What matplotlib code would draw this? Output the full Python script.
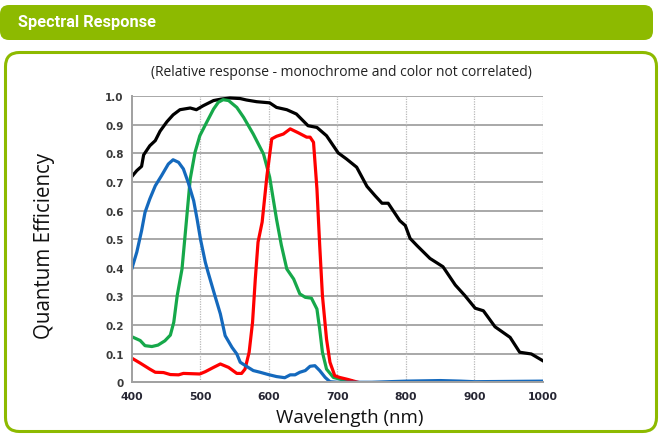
import matplotlib
matplotlib.use("Agg")
import matplotlib.pyplot as plt
from matplotlib.patches import FancyBboxPatch

TITLE = "Spectral Response"
SUBTITLE = "(Relative response - monochrome and color not correlated)"
X_LABEL = "Wavelength (nm)"
Y_LABEL = "Quantum Efficiency"

# wavelength (nm) / quantum efficiency
mono_nm = [400, 407, 414, 417, 426, 434, 441, 451, 460, 470, 485, 494, 504, 519,
           530, 543, 558, 567, 582, 601, 611, 626, 640, 657, 670, 684, 701, 713,
           728, 743, 755, 765, 774, 791, 799, 806, 816, 835, 854, 872, 886, 901,
           913, 930, 952, 966, 983, 1000]
mono_qe = [0.72, 0.74, 0.755, 0.795, 0.827, 0.845, 0.878, 0.911, 0.935, 0.953,
           0.959, 0.953, 0.967, 0.985, 0.99, 0.994, 0.992, 0.987, 0.981, 0.977,
           0.961, 0.953, 0.938, 0.897, 0.891, 0.862, 0.802, 0.781, 0.752, 0.685,
           0.652, 0.626, 0.626, 0.565, 0.548, 0.503, 0.478, 0.433, 0.404, 0.340,
           0.303, 0.259, 0.250, 0.194, 0.157, 0.105, 0.099, 0.075]

green_nm = [400, 412, 419, 429, 438, 448, 456, 461, 466, 473, 477, 485, 492, 499,
            509, 519, 526, 533, 541, 553, 563, 577, 592, 601, 611, 618, 626, 636,
            645, 653, 662, 670, 674, 678, 684, 694, 705, 720]
green_qe = [0.159, 0.146, 0.128, 0.125, 0.130, 0.145, 0.165, 0.21, 0.303, 0.396,
            0.50, 0.711, 0.804, 0.862, 0.909, 0.955, 0.979, 0.988, 0.985, 0.961,
            0.926, 0.868, 0.798, 0.717, 0.57, 0.48, 0.396, 0.361, 0.309, 0.297,
            0.294, 0.256, 0.186, 0.105, 0.046, 0.017, 0.01, 0.005]

red_nm = [400, 412, 426, 434, 446, 456, 468, 475, 487, 499, 507, 519, 529, 541,
          553, 560, 565, 571, 576, 580, 584, 590, 597, 604, 611, 621, 631, 643,
          655, 660, 665, 670, 674, 678, 684, 689, 696, 703, 715, 730]
red_qe = [0.084, 0.067, 0.046, 0.035, 0.034, 0.027, 0.026, 0.031, 0.030, 0.029,
          0.037, 0.052, 0.064, 0.052, 0.031, 0.031, 0.046, 0.105, 0.21, 0.361,
          0.49, 0.56, 0.722, 0.851, 0.860, 0.868, 0.886, 0.872, 0.857, 0.857,
          0.839, 0.676, 0.48, 0.303, 0.151, 0.070, 0.023, 0.017, 0.01, 0.0]

blue_nm = [400, 407, 414, 419, 426, 434, 443, 453, 460, 468, 475, 482, 490, 495,
           500, 507, 511, 521, 529, 536, 546, 553, 558, 567, 577, 587, 599, 611,
           623, 631, 638, 645, 653, 660, 667, 674, 682, 689, 700, 750, 800, 850,
           880, 900, 950, 1000]
blue_qe = [0.399, 0.455, 0.53, 0.594, 0.641, 0.687, 0.722, 0.763, 0.778, 0.769,
           0.746, 0.699, 0.635, 0.571, 0.50, 0.42, 0.385, 0.303, 0.239, 0.163,
           0.122, 0.099, 0.070, 0.056, 0.041, 0.035, 0.027, 0.020, 0.016, 0.026,
           0.026, 0.035, 0.041, 0.056, 0.058, 0.041, 0.017, 0.002, 0.0, 0.0,
           0.004, 0.006, 0.004, 0.002, 0.003, 0.004]

x_ticks = [400, 500, 600, 700, 800, 900, 1000]
y_ticks = [0, 0.1, 0.2, 0.3, 0.4, 0.5, 0.6, 0.7, 0.8, 0.9, 1.0]
y_labels = ["0", "0.1", "0.2", "0.3", "0.4", "0.5", "0.6", "0.7", "0.8", "0.9", "1.0"]

GREEN = "#8dba00"

fig = plt.figure(figsize=(6.6, 4.35), dpi=100)

# background layer in pixel units for the header bar, frame and labels
bg = fig.add_axes([0, 0, 1, 1], zorder=0)
bg.set_xlim(0, 660)
bg.set_ylim(435, 0)
bg.axis("off")
bg.add_patch(FancyBboxPatch((0, 6), 653, 35, boxstyle="round,pad=0,rounding_size=9",
                            facecolor=GREEN, edgecolor="none"))
bg.add_patch(FancyBboxPatch((5.5, 53.5), 651, 379, boxstyle="round,pad=0,rounding_size=14",
                            facecolor="white", edgecolor=GREEN, linewidth=2.2))
bg.text(18, 23, TITLE, color="white", fontsize=11.8, fontweight="bold",
        family="Roboto", va="center", ha="left")
bg.text(341, 73, SUBTITLE, color="#222222", fontsize=10, family="Open Sans",
        va="center", ha="center")
bg.text(350, 418, X_LABEL, color="#111111", fontsize=13.5, family="Open Sans",
        va="center", ha="center")
bg.text(45, 246, Y_LABEL, color="#111111", fontsize=14.8, family="Open Sans",
        va="center", ha="center", rotation=90)

ax = fig.add_axes([0.2, 0.1189, 0.6227, 0.6575], zorder=1)
ax.patch.set_alpha(0)
ax.plot(mono_nm, mono_qe, color="black", lw=2.3, solid_joinstyle="round")
ax.plot(green_nm, green_qe, color="#16a84a", lw=2.3, solid_joinstyle="round")
ax.plot(red_nm, red_qe, color="#ff0000", lw=2.3, solid_joinstyle="round")
ax.plot(blue_nm, blue_qe, color="#1469bd", lw=2.3, solid_joinstyle="round")

ax.set_xlim(400, 1000)
ax.set_ylim(0, 1.0)
ax.set_xticks(x_ticks)
ax.set_yticks(y_ticks)
ax.set_yticklabels(y_labels)

for y in y_ticks[1:]:
    ax.axhline(y, color="#a8a8a8", lw=1.4, zorder=0)
for x in x_ticks[1:]:
    ax.axvline(x, color="#b8b8b8", lw=0.9, ls=(0, (1, 1)), zorder=0)

for s in ["top", "right"]:
    ax.spines[s].set_visible(False)
for s in ["left", "bottom"]:
    ax.spines[s].set_color("#a0a0a0")
    ax.spines[s].set_linewidth(1.4)

ax.tick_params(length=0, pad=6)
for lab in ax.get_xticklabels():
    lab.set_fontweight("bold")
    lab.set_fontsize(7.8)
    lab.set_color("#262633")
for lab in ax.get_yticklabels():
    lab.set_fontweight("bold")
    lab.set_fontsize(7.5)
    lab.set_color("#3a3a3a")

fig.savefig("out.png", dpi=100)
